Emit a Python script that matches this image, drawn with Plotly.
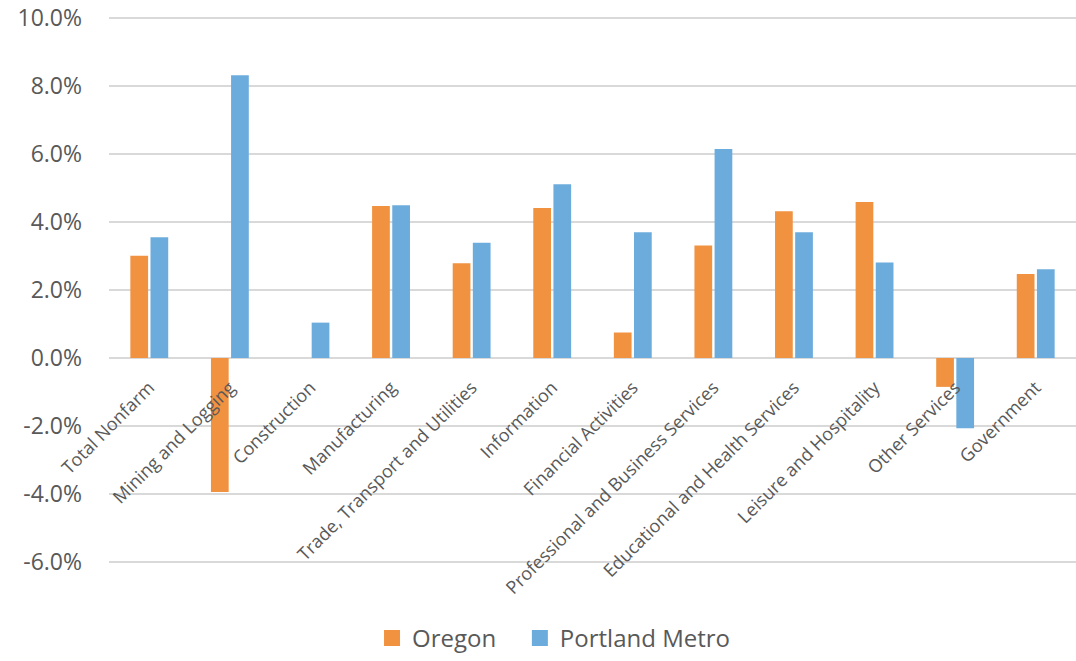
import plotly.graph_objects as go

categories = [
    "Total Nonfarm", "Mining and Logging", "Construction", "Manufacturing",
    "Trade, Transport and Utilities", "Information", "Financial Activities",
    "Professional and Business Services", "Educational and Health Services",
    "Leisure and Hospitality", "Other Services", "Government",
]
oregon = [3.01, -3.94, 0.0, 4.47, 2.79, 4.41, 0.75, 3.31, 4.32, 4.59, -0.85, 2.47]
portland_metro = [3.55, 8.32, 1.04, 4.49, 3.39, 5.11, 3.70, 6.15, 3.70, 2.81, -2.07, 2.61]
y_ticks = [-6, -4, -2, 0, 2, 4, 6, 8, 10]
y_tick_labels = ["-6.0%", "-4.0%", "-2.0%", "0.0%", "2.0%", "4.0%", "6.0%", "8.0%", "10.0%"]

Y_MIN, Y_MAX = -6, 10
PAD = 0.03
ORANGE = "#F19240"
BLUE = "#6CACDD"
TEXT = "#595959"
GRID = "#D9D9D9"
FONT = "Open Sans"
NBSP = "\u00a0"

fig = go.Figure()
series = [("Oregon", oregon, ORANGE), ("Portland Metro", portland_metro, BLUE)]
for name, values, color in series:
    fig.add_trace(go.Bar(
        name=name, x=categories, y=values,
        marker=dict(color=color, line=dict(width=0)),
        showlegend=False,
    ))
# Legend entries with larger square swatches and wider spacing between items
for i, (name, values, color) in enumerate(series):
    label = name + (NBSP * 3 if i < len(series) - 1 else "")
    fig.add_trace(go.Scatter(
        name=label, x=[None], y=[None], mode="markers",
        marker=dict(symbol="square", size=17, color=color),
        showlegend=True,
    ))

fig.update_layout(
    width=1076, height=661,
    margin=dict(l=109, r=0, t=17, b=94),
    paper_bgcolor="white", plot_bgcolor="white",
    barmode="group", bargap=0.5, bargroupgap=0.12,
    font=dict(family=FONT, color=TEXT),
    legend=dict(
        orientation="h", x=0.272, xanchor="left", y=-0.138, yanchor="middle",
        font=dict(size=24, color=TEXT, family=FONT),
        itemwidth=30, traceorder="normal",
    ),
    xaxis=dict(
        anchor="free", position=(0 - (Y_MIN - PAD)) / ((Y_MAX + PAD) - (Y_MIN - PAD)),
        tickangle=-45, tickfont=dict(size=18, color=TEXT, family=FONT),
        showgrid=False, showline=False, zeroline=False,
        ticks="outside", ticklen=11, tickcolor="rgba(0,0,0,0)",
        automargin=False,
    ),
    yaxis=dict(
        range=[Y_MIN - PAD, Y_MAX + PAD], tickvals=y_ticks, ticktext=y_tick_labels,
        tickfont=dict(size=23, color=TEXT, family=FONT),
        showgrid=True, gridcolor=GRID, gridwidth=1.5,
        zeroline=True, zerolinecolor=GRID, zerolinewidth=1.5,
        showline=False, ticks="", ticklabelstandoff=26, automargin=False,
        ticklabeloverflow="allow",
    ),
)

fig.write_html("out.html")
